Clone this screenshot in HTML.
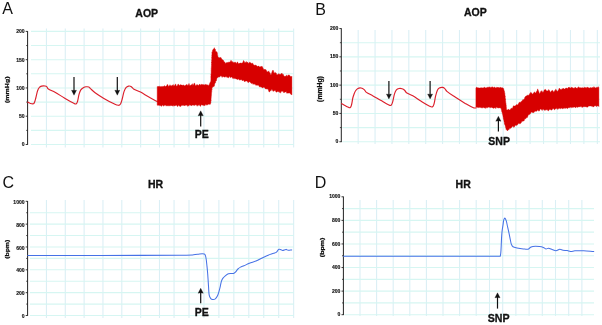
<!DOCTYPE html>
<html lang="en"><head><meta charset="utf-8"><title>AOP and HR traces</title>
<style>html,body{margin:0;padding:0;background:#fff;}body{width:602px;height:325px;overflow:hidden;}svg{display:block;}</style>
</head><body>
<svg width="602" height="325" viewBox="0 0 602 325">
<rect width="602" height="325" fill="#fff"/>
<defs><filter id="gb" x="-2%" y="-2%" width="104%" height="104%"><feGaussianBlur stdDeviation="0.6"/></filter></defs>
<g filter="url(#gb)">
<line x1="46.44" y1="28.5" x2="46.44" y2="147.5" stroke="#dbeff5" stroke-width="1.1"/>
<line x1="65.28" y1="28.5" x2="65.28" y2="147.5" stroke="#dbeff5" stroke-width="1.1"/>
<line x1="84.12" y1="28.5" x2="84.12" y2="147.5" stroke="#dbeff5" stroke-width="1.1"/>
<line x1="102.96" y1="28.5" x2="102.96" y2="147.5" stroke="#dbeff5" stroke-width="1.1"/>
<line x1="121.8" y1="28.5" x2="121.8" y2="147.5" stroke="#dbeff5" stroke-width="1.1"/>
<line x1="140.64" y1="28.5" x2="140.64" y2="147.5" stroke="#dbeff5" stroke-width="1.1"/>
<line x1="159.48" y1="28.5" x2="159.48" y2="147.5" stroke="#dbeff5" stroke-width="1.1"/>
<line x1="174.05" y1="28.5" x2="174.05" y2="147.5" stroke="#dbeff5" stroke-width="1.1"/>
<line x1="189" y1="28.5" x2="189" y2="147.5" stroke="#dbeff5" stroke-width="1.1"/>
<line x1="203.95" y1="28.5" x2="203.95" y2="147.5" stroke="#dbeff5" stroke-width="1.1"/>
<line x1="218.9" y1="28.5" x2="218.9" y2="147.5" stroke="#dbeff5" stroke-width="1.1"/>
<line x1="233.85" y1="28.5" x2="233.85" y2="147.5" stroke="#dbeff5" stroke-width="1.1"/>
<line x1="248.8" y1="28.5" x2="248.8" y2="147.5" stroke="#dbeff5" stroke-width="1.1"/>
<line x1="263.75" y1="28.5" x2="263.75" y2="147.5" stroke="#dbeff5" stroke-width="1.1"/>
<line x1="278.7" y1="28.5" x2="278.7" y2="147.5" stroke="#dbeff5" stroke-width="1.1"/>
<line x1="293.65" y1="28.5" x2="293.65" y2="147.5" stroke="#dbeff5" stroke-width="1.1"/>
<line x1="31" y1="144.5" x2="294" y2="144.5" stroke="#d6f6f2" stroke-width="1.1"/>
<line x1="31" y1="130.36" x2="294" y2="130.36" stroke="#d6f6f2" stroke-width="1.1"/>
<line x1="31" y1="116.22" x2="294" y2="116.22" stroke="#d6f6f2" stroke-width="1.1"/>
<line x1="31" y1="102.09" x2="294" y2="102.09" stroke="#d6f6f2" stroke-width="1.1"/>
<line x1="31" y1="87.95" x2="294" y2="87.95" stroke="#d6f6f2" stroke-width="1.1"/>
<line x1="31" y1="73.81" x2="294" y2="73.81" stroke="#d6f6f2" stroke-width="1.1"/>
<line x1="31" y1="59.68" x2="294" y2="59.68" stroke="#d6f6f2" stroke-width="1.1"/>
<line x1="31" y1="45.54" x2="294" y2="45.54" stroke="#d6f6f2" stroke-width="1.1"/>
<line x1="31" y1="31.4" x2="294" y2="31.4" stroke="#d6f6f2" stroke-width="1.1"/>
<line x1="46.44" y1="200" x2="46.44" y2="318" stroke="#dbeff5" stroke-width="1.1"/>
<line x1="65.28" y1="200" x2="65.28" y2="318" stroke="#dbeff5" stroke-width="1.1"/>
<line x1="84.12" y1="200" x2="84.12" y2="318" stroke="#dbeff5" stroke-width="1.1"/>
<line x1="102.96" y1="200" x2="102.96" y2="318" stroke="#dbeff5" stroke-width="1.1"/>
<line x1="121.8" y1="200" x2="121.8" y2="318" stroke="#dbeff5" stroke-width="1.1"/>
<line x1="140.64" y1="200" x2="140.64" y2="318" stroke="#dbeff5" stroke-width="1.1"/>
<line x1="159.48" y1="200" x2="159.48" y2="318" stroke="#dbeff5" stroke-width="1.1"/>
<line x1="174.05" y1="200" x2="174.05" y2="318" stroke="#dbeff5" stroke-width="1.1"/>
<line x1="189" y1="200" x2="189" y2="318" stroke="#dbeff5" stroke-width="1.1"/>
<line x1="203.95" y1="200" x2="203.95" y2="318" stroke="#dbeff5" stroke-width="1.1"/>
<line x1="218.9" y1="200" x2="218.9" y2="318" stroke="#dbeff5" stroke-width="1.1"/>
<line x1="233.85" y1="200" x2="233.85" y2="318" stroke="#dbeff5" stroke-width="1.1"/>
<line x1="248.8" y1="200" x2="248.8" y2="318" stroke="#dbeff5" stroke-width="1.1"/>
<line x1="263.75" y1="200" x2="263.75" y2="318" stroke="#dbeff5" stroke-width="1.1"/>
<line x1="278.7" y1="200" x2="278.7" y2="318" stroke="#dbeff5" stroke-width="1.1"/>
<line x1="293.65" y1="200" x2="293.65" y2="318" stroke="#dbeff5" stroke-width="1.1"/>
<line x1="30" y1="315.5" x2="294" y2="315.5" stroke="#d6f6f2" stroke-width="1.1"/>
<line x1="30" y1="304.08" x2="294" y2="304.08" stroke="#d6f6f2" stroke-width="1.1"/>
<line x1="30" y1="292.66" x2="294" y2="292.66" stroke="#d6f6f2" stroke-width="1.1"/>
<line x1="30" y1="281.24" x2="294" y2="281.24" stroke="#d6f6f2" stroke-width="1.1"/>
<line x1="30" y1="269.82" x2="294" y2="269.82" stroke="#d6f6f2" stroke-width="1.1"/>
<line x1="30" y1="258.4" x2="294" y2="258.4" stroke="#d6f6f2" stroke-width="1.1"/>
<line x1="30" y1="246.98" x2="294" y2="246.98" stroke="#d6f6f2" stroke-width="1.1"/>
<line x1="30" y1="235.56" x2="294" y2="235.56" stroke="#d6f6f2" stroke-width="1.1"/>
<line x1="30" y1="224.14" x2="294" y2="224.14" stroke="#d6f6f2" stroke-width="1.1"/>
<line x1="30" y1="212.72" x2="294" y2="212.72" stroke="#d6f6f2" stroke-width="1.1"/>
<line x1="358.18" y1="30" x2="358.18" y2="144" stroke="#dbeff5" stroke-width="1.1"/>
<line x1="375.06" y1="30" x2="375.06" y2="144" stroke="#dbeff5" stroke-width="1.1"/>
<line x1="391.94" y1="30" x2="391.94" y2="144" stroke="#dbeff5" stroke-width="1.1"/>
<line x1="408.82" y1="30" x2="408.82" y2="144" stroke="#dbeff5" stroke-width="1.1"/>
<line x1="425.7" y1="30" x2="425.7" y2="144" stroke="#dbeff5" stroke-width="1.1"/>
<line x1="442.58" y1="30" x2="442.58" y2="144" stroke="#dbeff5" stroke-width="1.1"/>
<line x1="459.46" y1="30" x2="459.46" y2="144" stroke="#dbeff5" stroke-width="1.1"/>
<line x1="476.34" y1="30" x2="476.34" y2="144" stroke="#dbeff5" stroke-width="1.1"/>
<line x1="489.75" y1="30" x2="489.75" y2="144" stroke="#dbeff5" stroke-width="1.1"/>
<line x1="503.2" y1="30" x2="503.2" y2="144" stroke="#dbeff5" stroke-width="1.1"/>
<line x1="516.65" y1="30" x2="516.65" y2="144" stroke="#dbeff5" stroke-width="1.1"/>
<line x1="530.1" y1="30" x2="530.1" y2="144" stroke="#dbeff5" stroke-width="1.1"/>
<line x1="543.55" y1="30" x2="543.55" y2="144" stroke="#dbeff5" stroke-width="1.1"/>
<line x1="557" y1="30" x2="557" y2="144" stroke="#dbeff5" stroke-width="1.1"/>
<line x1="570.45" y1="30" x2="570.45" y2="144" stroke="#dbeff5" stroke-width="1.1"/>
<line x1="583.9" y1="30" x2="583.9" y2="144" stroke="#dbeff5" stroke-width="1.1"/>
<line x1="597.35" y1="30" x2="597.35" y2="144" stroke="#dbeff5" stroke-width="1.1"/>
<line x1="342.3" y1="141.73" x2="600" y2="141.73" stroke="#d6f6f2" stroke-width="1.1"/>
<line x1="342.3" y1="127.58" x2="600" y2="127.58" stroke="#d6f6f2" stroke-width="1.1"/>
<line x1="342.3" y1="113.43" x2="600" y2="113.43" stroke="#d6f6f2" stroke-width="1.1"/>
<line x1="342.3" y1="99.29" x2="600" y2="99.29" stroke="#d6f6f2" stroke-width="1.1"/>
<line x1="342.3" y1="85.14" x2="600" y2="85.14" stroke="#d6f6f2" stroke-width="1.1"/>
<line x1="342.3" y1="70.99" x2="600" y2="70.99" stroke="#d6f6f2" stroke-width="1.1"/>
<line x1="342.3" y1="56.84" x2="600" y2="56.84" stroke="#d6f6f2" stroke-width="1.1"/>
<line x1="342.3" y1="42.7" x2="600" y2="42.7" stroke="#d6f6f2" stroke-width="1.1"/>
<line x1="360" y1="200" x2="360" y2="316" stroke="#dbeff5" stroke-width="1.1"/>
<line x1="376.6" y1="200" x2="376.6" y2="316" stroke="#dbeff5" stroke-width="1.1"/>
<line x1="393.2" y1="200" x2="393.2" y2="316" stroke="#dbeff5" stroke-width="1.1"/>
<line x1="409.8" y1="200" x2="409.8" y2="316" stroke="#dbeff5" stroke-width="1.1"/>
<line x1="426.4" y1="200" x2="426.4" y2="316" stroke="#dbeff5" stroke-width="1.1"/>
<line x1="443" y1="200" x2="443" y2="316" stroke="#dbeff5" stroke-width="1.1"/>
<line x1="459.6" y1="200" x2="459.6" y2="316" stroke="#dbeff5" stroke-width="1.1"/>
<line x1="476.2" y1="200" x2="476.2" y2="316" stroke="#dbeff5" stroke-width="1.1"/>
<line x1="489.5" y1="200" x2="489.5" y2="316" stroke="#dbeff5" stroke-width="1.1"/>
<line x1="502.7" y1="200" x2="502.7" y2="316" stroke="#dbeff5" stroke-width="1.1"/>
<line x1="515.9" y1="200" x2="515.9" y2="316" stroke="#dbeff5" stroke-width="1.1"/>
<line x1="529.1" y1="200" x2="529.1" y2="316" stroke="#dbeff5" stroke-width="1.1"/>
<line x1="542.3" y1="200" x2="542.3" y2="316" stroke="#dbeff5" stroke-width="1.1"/>
<line x1="555.5" y1="200" x2="555.5" y2="316" stroke="#dbeff5" stroke-width="1.1"/>
<line x1="568.7" y1="200" x2="568.7" y2="316" stroke="#dbeff5" stroke-width="1.1"/>
<line x1="581.9" y1="200" x2="581.9" y2="316" stroke="#dbeff5" stroke-width="1.1"/>
<line x1="344.4" y1="314.7" x2="594" y2="314.7" stroke="#d6f6f2" stroke-width="1.1"/>
<line x1="344.4" y1="302.91" x2="594" y2="302.91" stroke="#d6f6f2" stroke-width="1.1"/>
<line x1="344.4" y1="291.12" x2="594" y2="291.12" stroke="#d6f6f2" stroke-width="1.1"/>
<line x1="344.4" y1="279.33" x2="594" y2="279.33" stroke="#d6f6f2" stroke-width="1.1"/>
<line x1="344.4" y1="267.54" x2="594" y2="267.54" stroke="#d6f6f2" stroke-width="1.1"/>
<line x1="344.4" y1="255.75" x2="594" y2="255.75" stroke="#d6f6f2" stroke-width="1.1"/>
<line x1="344.4" y1="243.96" x2="594" y2="243.96" stroke="#d6f6f2" stroke-width="1.1"/>
<line x1="344.4" y1="232.17" x2="594" y2="232.17" stroke="#d6f6f2" stroke-width="1.1"/>
<line x1="344.4" y1="220.38" x2="594" y2="220.38" stroke="#d6f6f2" stroke-width="1.1"/>
<line x1="344.4" y1="208.59" x2="594" y2="208.59" stroke="#d6f6f2" stroke-width="1.1"/>
</g>
<line x1="27.6" y1="31.1" x2="27.6" y2="144.9" stroke="#222" stroke-width="1"/>
<line x1="25.7" y1="144.5" x2="27.6" y2="144.5" stroke="#222" stroke-width="0.9"/>
<line x1="25.7" y1="116.22" x2="27.6" y2="116.22" stroke="#222" stroke-width="0.9"/>
<line x1="25.7" y1="87.95" x2="27.6" y2="87.95" stroke="#222" stroke-width="0.9"/>
<line x1="25.7" y1="59.68" x2="27.6" y2="59.68" stroke="#222" stroke-width="0.9"/>
<line x1="25.7" y1="31.4" x2="27.6" y2="31.4" stroke="#222" stroke-width="0.9"/>
<line x1="26.2" y1="130.36" x2="27.6" y2="130.36" stroke="#222" stroke-width="0.8"/>
<line x1="26.2" y1="102.09" x2="27.6" y2="102.09" stroke="#222" stroke-width="0.8"/>
<line x1="26.2" y1="73.81" x2="27.6" y2="73.81" stroke="#222" stroke-width="0.8"/>
<line x1="26.2" y1="45.54" x2="27.6" y2="45.54" stroke="#222" stroke-width="0.8"/>
<text x="24.6" y="146.4" text-anchor="end" font-size="5.05" font-weight="bold" font-family="Liberation Sans, Arial, Helvetica, sans-serif" fill="#111" stroke="#111" stroke-width="0.14">0</text>
<text x="24.6" y="118.12" text-anchor="end" font-size="5.05" font-weight="bold" font-family="Liberation Sans, Arial, Helvetica, sans-serif" fill="#111" stroke="#111" stroke-width="0.14">50</text>
<text x="24.6" y="89.85" text-anchor="end" font-size="5.05" font-weight="bold" font-family="Liberation Sans, Arial, Helvetica, sans-serif" fill="#111" stroke="#111" stroke-width="0.14">100</text>
<text x="24.6" y="61.58" text-anchor="end" font-size="5.05" font-weight="bold" font-family="Liberation Sans, Arial, Helvetica, sans-serif" fill="#111" stroke="#111" stroke-width="0.14">150</text>
<text x="24.6" y="33.3" text-anchor="end" font-size="5.05" font-weight="bold" font-family="Liberation Sans, Arial, Helvetica, sans-serif" fill="#111" stroke="#111" stroke-width="0.14">200</text>
<line x1="341.3" y1="28.25" x2="341.3" y2="142.13" stroke="#222" stroke-width="1"/>
<line x1="339.4" y1="141.73" x2="341.3" y2="141.73" stroke="#222" stroke-width="0.9"/>
<line x1="339.4" y1="113.43" x2="341.3" y2="113.43" stroke="#222" stroke-width="0.9"/>
<line x1="339.4" y1="85.14" x2="341.3" y2="85.14" stroke="#222" stroke-width="0.9"/>
<line x1="339.4" y1="56.84" x2="341.3" y2="56.84" stroke="#222" stroke-width="0.9"/>
<line x1="339.4" y1="28.55" x2="341.3" y2="28.55" stroke="#222" stroke-width="0.9"/>
<line x1="339.9" y1="127.58" x2="341.3" y2="127.58" stroke="#222" stroke-width="0.8"/>
<line x1="339.9" y1="99.29" x2="341.3" y2="99.29" stroke="#222" stroke-width="0.8"/>
<line x1="339.9" y1="70.99" x2="341.3" y2="70.99" stroke="#222" stroke-width="0.8"/>
<line x1="339.9" y1="42.7" x2="341.3" y2="42.7" stroke="#222" stroke-width="0.8"/>
<text x="338.3" y="143.33" text-anchor="end" font-size="5.05" font-weight="bold" font-family="Liberation Sans, Arial, Helvetica, sans-serif" fill="#111" stroke="#111" stroke-width="0.14">0</text>
<text x="338.3" y="115.03" text-anchor="end" font-size="5.05" font-weight="bold" font-family="Liberation Sans, Arial, Helvetica, sans-serif" fill="#111" stroke="#111" stroke-width="0.14">50</text>
<text x="338.3" y="86.74" text-anchor="end" font-size="5.05" font-weight="bold" font-family="Liberation Sans, Arial, Helvetica, sans-serif" fill="#111" stroke="#111" stroke-width="0.14">100</text>
<text x="338.3" y="58.44" text-anchor="end" font-size="5.05" font-weight="bold" font-family="Liberation Sans, Arial, Helvetica, sans-serif" fill="#111" stroke="#111" stroke-width="0.14">150</text>
<text x="338.3" y="30.15" text-anchor="end" font-size="5.05" font-weight="bold" font-family="Liberation Sans, Arial, Helvetica, sans-serif" fill="#111" stroke="#111" stroke-width="0.14">200</text>
<line x1="27.6" y1="201" x2="27.6" y2="315.9" stroke="#222" stroke-width="1"/>
<line x1="25.7" y1="315.5" x2="27.6" y2="315.5" stroke="#222" stroke-width="0.9"/>
<line x1="25.7" y1="292.66" x2="27.6" y2="292.66" stroke="#222" stroke-width="0.9"/>
<line x1="25.7" y1="269.82" x2="27.6" y2="269.82" stroke="#222" stroke-width="0.9"/>
<line x1="25.7" y1="246.98" x2="27.6" y2="246.98" stroke="#222" stroke-width="0.9"/>
<line x1="25.7" y1="224.14" x2="27.6" y2="224.14" stroke="#222" stroke-width="0.9"/>
<line x1="25.7" y1="201.3" x2="27.6" y2="201.3" stroke="#222" stroke-width="0.9"/>
<line x1="26.2" y1="304.08" x2="27.6" y2="304.08" stroke="#222" stroke-width="0.8"/>
<line x1="26.2" y1="281.24" x2="27.6" y2="281.24" stroke="#222" stroke-width="0.8"/>
<line x1="26.2" y1="258.4" x2="27.6" y2="258.4" stroke="#222" stroke-width="0.8"/>
<line x1="26.2" y1="235.56" x2="27.6" y2="235.56" stroke="#222" stroke-width="0.8"/>
<line x1="26.2" y1="212.72" x2="27.6" y2="212.72" stroke="#222" stroke-width="0.8"/>
<text x="24.6" y="318.1" text-anchor="end" font-size="5.05" font-weight="bold" font-family="Liberation Sans, Arial, Helvetica, sans-serif" fill="#111" stroke="#111" stroke-width="0.14">0</text>
<text x="24.6" y="295.26" text-anchor="end" font-size="5.05" font-weight="bold" font-family="Liberation Sans, Arial, Helvetica, sans-serif" fill="#111" stroke="#111" stroke-width="0.14">200</text>
<text x="24.6" y="272.42" text-anchor="end" font-size="5.05" font-weight="bold" font-family="Liberation Sans, Arial, Helvetica, sans-serif" fill="#111" stroke="#111" stroke-width="0.14">400</text>
<text x="24.6" y="249.58" text-anchor="end" font-size="5.05" font-weight="bold" font-family="Liberation Sans, Arial, Helvetica, sans-serif" fill="#111" stroke="#111" stroke-width="0.14">600</text>
<text x="24.6" y="226.74" text-anchor="end" font-size="5.05" font-weight="bold" font-family="Liberation Sans, Arial, Helvetica, sans-serif" fill="#111" stroke="#111" stroke-width="0.14">800</text>
<text x="24.6" y="203.9" text-anchor="end" font-size="5.05" font-weight="bold" font-family="Liberation Sans, Arial, Helvetica, sans-serif" fill="#111" stroke="#111" stroke-width="0.14">1000</text>
<line x1="343.4" y1="196.5" x2="343.4" y2="315.1" stroke="#222" stroke-width="1"/>
<line x1="341.5" y1="314.7" x2="343.4" y2="314.7" stroke="#222" stroke-width="0.9"/>
<line x1="341.5" y1="291.12" x2="343.4" y2="291.12" stroke="#222" stroke-width="0.9"/>
<line x1="341.5" y1="267.54" x2="343.4" y2="267.54" stroke="#222" stroke-width="0.9"/>
<line x1="341.5" y1="243.96" x2="343.4" y2="243.96" stroke="#222" stroke-width="0.9"/>
<line x1="341.5" y1="220.38" x2="343.4" y2="220.38" stroke="#222" stroke-width="0.9"/>
<line x1="341.5" y1="196.8" x2="343.4" y2="196.8" stroke="#222" stroke-width="0.9"/>
<line x1="342" y1="302.91" x2="343.4" y2="302.91" stroke="#222" stroke-width="0.8"/>
<line x1="342" y1="279.33" x2="343.4" y2="279.33" stroke="#222" stroke-width="0.8"/>
<line x1="342" y1="255.75" x2="343.4" y2="255.75" stroke="#222" stroke-width="0.8"/>
<line x1="342" y1="232.17" x2="343.4" y2="232.17" stroke="#222" stroke-width="0.8"/>
<line x1="342" y1="208.59" x2="343.4" y2="208.59" stroke="#222" stroke-width="0.8"/>
<text x="340.4" y="316.3" text-anchor="end" font-size="5.05" font-weight="bold" font-family="Liberation Sans, Arial, Helvetica, sans-serif" fill="#111" stroke="#111" stroke-width="0.14">0</text>
<text x="340.4" y="292.72" text-anchor="end" font-size="5.05" font-weight="bold" font-family="Liberation Sans, Arial, Helvetica, sans-serif" fill="#111" stroke="#111" stroke-width="0.14">200</text>
<text x="340.4" y="269.14" text-anchor="end" font-size="5.05" font-weight="bold" font-family="Liberation Sans, Arial, Helvetica, sans-serif" fill="#111" stroke="#111" stroke-width="0.14">400</text>
<text x="340.4" y="245.56" text-anchor="end" font-size="5.05" font-weight="bold" font-family="Liberation Sans, Arial, Helvetica, sans-serif" fill="#111" stroke="#111" stroke-width="0.14">600</text>
<text x="340.4" y="221.98" text-anchor="end" font-size="5.05" font-weight="bold" font-family="Liberation Sans, Arial, Helvetica, sans-serif" fill="#111" stroke="#111" stroke-width="0.14">800</text>
<text x="340.4" y="198.4" text-anchor="end" font-size="5.05" font-weight="bold" font-family="Liberation Sans, Arial, Helvetica, sans-serif" fill="#111" stroke="#111" stroke-width="0.14">1000</text>
<text transform="translate(8.8 89.7) rotate(-90)" x="0" y="0" font-size="6.2" font-weight="bold" text-anchor="middle" textLength="26.6" lengthAdjust="spacingAndGlyphs" font-family="Liberation Sans, Arial, Helvetica, sans-serif" fill="#111" stroke="#111" stroke-width="0.25">(mmHg)</text>
<text transform="translate(321.9 89) rotate(-90)" x="0" y="0" font-size="7.0" font-weight="bold" text-anchor="middle" textLength="25.8" lengthAdjust="spacingAndGlyphs" font-family="Liberation Sans, Arial, Helvetica, sans-serif" fill="#111" stroke="#111" stroke-width="0.25">(mmHg)</text>
<text transform="translate(9.2 249.3) rotate(-90)" x="0" y="0" font-size="6.2" font-weight="bold" text-anchor="middle" textLength="18.9" lengthAdjust="spacingAndGlyphs" font-family="Liberation Sans, Arial, Helvetica, sans-serif" fill="#111" stroke="#111" stroke-width="0.25">(bpm)</text>
<text transform="translate(324.3 247.4) rotate(-90)" x="0" y="0" font-size="6.2" font-weight="bold" text-anchor="middle" textLength="19.5" lengthAdjust="spacingAndGlyphs" font-family="Liberation Sans, Arial, Helvetica, sans-serif" fill="#111" stroke="#111" stroke-width="0.25">(bpm)</text>
<text x="2.2" y="13.7" font-size="16"  text-anchor="start" font-family="Liberation Sans, Arial, Helvetica, sans-serif" fill="#111" >A</text>
<text x="315.2" y="14.6" font-size="16"  text-anchor="start" font-family="Liberation Sans, Arial, Helvetica, sans-serif" fill="#111" >B</text>
<text x="2.4" y="187.7" font-size="16"  text-anchor="start" font-family="Liberation Sans, Arial, Helvetica, sans-serif" fill="#111" >C</text>
<text x="314.8" y="187.7" font-size="16"  text-anchor="start" font-family="Liberation Sans, Arial, Helvetica, sans-serif" fill="#111" >D</text>
<text x="146.7" y="17" font-size="10.5" font-weight="bold" stroke="#111" stroke-width="0.3" text-anchor="middle" font-family="Liberation Sans, Arial, Helvetica, sans-serif" fill="#111" >AOP</text>
<text x="475.3" y="16" font-size="10.5" font-weight="bold" stroke="#111" stroke-width="0.3" text-anchor="middle" font-family="Liberation Sans, Arial, Helvetica, sans-serif" fill="#111" >AOP</text>
<text x="155.6" y="187.7" font-size="10.5" font-weight="bold" stroke="#111" stroke-width="0.3" text-anchor="middle" font-family="Liberation Sans, Arial, Helvetica, sans-serif" fill="#111" >HR</text>
<text x="463.2" y="187.9" font-size="10.5" font-weight="bold" stroke="#111" stroke-width="0.3" text-anchor="middle" font-family="Liberation Sans, Arial, Helvetica, sans-serif" fill="#111" >HR</text>
<path d="M27.7 102.1 C29.03 102.63 30.29 103.43 31.7 103.7 C32.46 103.85 33.55 103.93 34 103.3 C35.09 101.79 35.29 99.79 35.8 98 C36.46 95.69 36.74 93.28 37.5 91 C37.91 89.76 38.46 88.51 39.3 87.5 C39.88 86.81 40.73 86.32 41.6 86.1 C42.73 85.81 43.95 85.83 45.1 86 C45.76 86.1 46.41 86.44 46.9 86.9 C47.41 87.38 47.41 88.31 48 88.7 C50.18 90.13 52.73 90.91 55 92.2 C58.2 94.02 61.23 96.13 64.4 98 C67.5 99.83 70.59 101.68 73.8 103.3 C74.51 103.66 75.39 104.25 76.1 103.9 C76.93 103.49 77.23 102.39 77.5 101.5 C78.2 99.22 78.35 96.8 79 94.5 C79.45 92.92 79.88 91.27 80.8 89.9 C81.5 88.86 82.62 88.14 83.7 87.5 C84.39 87.09 85.2 86.88 86 86.8 C86.93 86.71 87.95 86.62 88.8 87 C89.62 87.37 90.04 88.3 90.7 88.9 C92.14 90.2 93.53 91.57 95.1 92.7 C97.94 94.74 100.89 96.63 103.9 98.4 C107.19 100.33 110.55 102.16 114 103.8 C115.4 104.47 116.85 105.25 118.4 105.3 C119.22 105.33 120.07 104.7 120.5 104 C121.41 102.49 121.72 100.69 122.2 99 C122.92 96.49 123.27 93.88 124.1 91.4 C124.55 90.06 125.1 88.69 126 87.6 C126.62 86.85 127.56 86.33 128.5 86.1 C129.32 85.9 130.27 85.99 131 86.4 C132.03 86.98 132.49 88.29 133.5 88.9 C135.7 90.22 138.23 90.91 140.5 92.1 C143.07 93.45 145.48 95.07 148 96.5 C151.08 98.24 154.2 99.9 157.3 101.6" fill="none" stroke="#dc1f2b" stroke-width="1.15" stroke-linejoin="round" stroke-linecap="round"/>
<path d="M157.2 86.57 L157.76 86.67 L158.31 86.06 L158.87 86.67 L159.42 86.27 L159.98 86.49 L160.54 86.65 L161.09 86.29 L161.65 86.64 L162.2 86.38 L162.76 86.62 L163.32 86.61 L163.87 86.37 L164.43 85.55 L164.99 86.58 L165.54 86.53 L166.1 86 L166.65 85.88 L167.21 84.45 L167.77 84.63 L168.32 86.2 L168.88 86.21 L169.43 85.69 L169.99 84.65 L170.55 85.39 L171.1 86.24 L171.66 85.56 L172.21 85.47 L172.77 84.94 L173.33 84.62 L173.88 86.17 L174.44 85.66 L175 84.81 L175.55 83.85 L176.11 85.38 L176.66 86.27 L177.22 85.95 L177.78 84.46 L178.33 84.1 L178.89 85.01 L179.44 85.87 L180 84.66 L180.56 84.84 L181.12 85.08 L181.69 85.03 L182.25 85.21 L182.81 85.37 L183.38 85.02 L183.94 85.36 L184.5 85.71 L185.06 86.01 L185.62 85.03 L186.19 84.78 L186.75 84.59 L187.31 84.68 L187.88 85.67 L188.44 84.79 L189 83.4 L189.56 85.26 L190.12 85.7 L190.69 85.06 L191.25 84.93 L191.81 84.39 L192.38 83.68 L192.94 85.38 L193.5 84.71 L194.06 83.22 L194.62 83.24 L195.19 85 L195.75 85.63 L196.31 85.16 L196.88 84.56 L197.44 84.68 L198 85.25 L198.56 85.45 L199.12 84.72 L199.68 83.97 L200.24 84.74 L200.8 85.24 L201.36 84.23 L201.92 84.54 L202.48 84.58 L203.04 84.87 L203.6 84.51 L204.16 85.29 L204.72 84.58 L205.28 84.38 L205.84 84.54 L206.4 84.55 L206.96 85.3 L207.52 84.91 L208.08 84.84 L208.64 85.65 L209.2 84.89 L209.4 83.79 L209.6 83.65 L209.8 83.22 L210 82.62 L210.2 82.26 L210.4 82.46 L210.6 81.59 L210.8 81.24 L210.82 80.84 L210.85 80.29 L210.87 79.63 L210.89 79.09 L210.92 77.9 L210.94 76.61 L210.96 77.23 L210.99 75.56 L211.01 74.83 L211.04 74.39 L211.06 75.1 L211.08 74.66 L211.11 74.1 L211.13 73.56 L211.15 73 L211.18 71.92 L211.2 70.66 L211.22 70.28 L211.25 70.5 L211.27 69.64 L211.29 68.73 L211.32 69.14 L211.34 67.95 L211.36 66.74 L211.39 66.55 L211.41 66.07 L211.44 66.05 L211.46 65.77 L211.48 64.3 L211.51 64.55 L211.53 63.16 L211.55 62.08 L211.58 62.82 L211.6 62.25 L211.62 60.49 L211.65 60.56 L211.67 60.76 L211.69 60.22 L211.72 59.66 L211.74 57.84 L211.76 57.57 L211.79 57.99 L211.81 56.4 L211.84 55.37 L211.86 55.71 L211.88 55.63 L211.91 54.8 L211.93 54.65 L211.95 54.11 L211.98 52.06 L212 52.38 L212.24 52.03 L212.49 50.47 L212.73 51.01 L212.98 49.51 L213.22 49.06 L213.47 49.48 L213.71 48.88 L213.96 48.27 L214.2 47.73 L214.43 47.86 L214.66 48.83 L214.89 49.24 L215.11 50.01 L215.34 49.29 L215.57 50.98 L215.8 51.41 L216.4 51.86 L217 51.72 L217.14 53.32 L217.29 52.79 L217.43 54.32 L217.58 54.82 L217.72 55.39 L217.87 56.33 L218.01 56.63 L218.16 57.41 L218.3 58 L218.93 57.02 L219.55 57.97 L220.18 57.69 L220.8 57.21 L221.32 58.2 L221.84 59.14 L222.36 59.54 L222.88 60.12 L223.4 60.26 L224.03 61.81 L224.65 62 L225.28 63 L225.9 63.61 L226.46 62.56 L227.01 62.87 L227.57 62.55 L228.12 61.9 L228.68 62.39 L229.23 62.34 L229.79 61.94 L230.34 61.82 L230.9 60.31 L231.45 60.77 L232 62.3 L232.55 61.52 L233.1 62.64 L233.65 62.31 L234.2 62.43 L234.75 62.31 L235.3 62.01 L235.94 62.97 L236.58 63.58 L237.22 61.89 L237.86 62.36 L238.5 64.14 L239.06 63.03 L239.61 63.5 L240.17 63.12 L240.72 63.04 L241.28 63.28 L241.83 62.93 L242.39 62.92 L242.94 62.13 L243.5 60.55 L244.07 60.93 L244.64 62.67 L245.21 62.11 L245.78 62.89 L246.35 61.44 L246.92 62.75 L247.49 61.95 L248.06 62.77 L248.63 63.6 L249.2 63.06 L249.77 61.92 L250.35 62.73 L250.92 62.97 L251.49 63.29 L252.06 64.21 L252.64 62.86 L253.21 64.51 L253.78 64.82 L254.35 65.24 L254.93 65.23 L255.5 65.12 L256.07 65.21 L256.65 65.77 L257.22 66.28 L257.79 66.61 L258.36 65.98 L258.94 66.09 L259.51 66.88 L260.08 67.1 L260.65 66.45 L261.23 67.1 L261.8 65.98 L262.39 66.87 L262.98 68.01 L263.57 69.2 L264.16 69.74 L264.75 69 L265.34 69.79 L265.93 69.54 L266.52 70.63 L267.11 71.99 L267.7 71.7 L268.27 71.85 L268.83 70.8 L269.4 72.67 L269.97 72.48 L270.53 74.41 L271.1 74.73 L271.34 73.7 L271.59 72.89 L271.83 72.44 L272.07 71.56 L272.31 71.18 L272.56 70.72 L272.8 70.01 L273.16 70.62 L273.52 70.75 L273.88 73.02 L274.24 73.25 L274.6 72.68 L275.17 72.36 L275.73 72.94 L276.3 73.17 L276.87 74.67 L277.43 74.73 L278 74.53 L278.58 73.66 L279.17 73.73 L279.75 74.56 L280.33 74.5 L280.92 73.7 L281.5 73.55 L282.09 73.33 L282.67 74.41 L283.26 74.36 L283.84 75.71 L284.43 76.48 L285.01 76.1 L285.6 76.18 L286.18 76.16 L286.77 74.88 L287.35 76.41 L287.93 75.62 L288.52 75.01 L289.1 74.86 L289.66 75.51 L290.22 76.19 L290.78 76.57 L291.34 76.65 L291.9 76.12 L291.9 94.92 L291.33 94.46 L290.75 94.3 L290.18 93.52 L289.61 92.78 L289.04 93.13 L288.46 93.01 L287.89 93.2 L287.32 92.96 L286.75 93.29 L286.17 91.47 L285.6 91.9 L285.04 92.05 L284.49 92.25 L283.93 93.02 L283.38 91.81 L282.82 91.22 L282.26 91.3 L281.71 91.35 L281.15 91.57 L280.59 93.2 L280.04 91.62 L279.48 92.57 L278.93 90.97 L278.37 92.1 L277.81 91.19 L277.26 91.77 L276.7 92.07 L276.09 92.15 L275.48 90.68 L274.86 90.2 L274.25 91.08 L273.64 91.12 L273.02 91.39 L272.41 89.89 L271.8 89.07 L271.1 90.8 L270.4 90.53 L269.7 91.87 L269.03 91.96 L268.37 89.82 L267.7 89.21 L267.11 88.69 L266.52 89 L265.93 88.85 L265.34 88.92 L264.75 87.86 L264.16 87.42 L263.57 87.31 L262.98 87.64 L262.39 87.97 L261.8 87.37 L261.22 86.98 L260.63 86.97 L260.05 86.41 L259.46 86.95 L258.88 85.89 L258.29 84.94 L257.71 85.32 L257.12 85.17 L256.54 85.11 L255.95 85.55 L255.37 84.4 L254.78 83.85 L254.2 84.44 L253.61 83.8 L253.03 84.46 L252.44 82.76 L251.85 83.75 L251.27 83.05 L250.68 82.79 L250.09 82.21 L249.51 81.65 L248.92 81.69 L248.33 82.84 L247.75 82.18 L247.16 81.22 L246.57 80.92 L245.99 80.99 L245.4 80.97 L244.85 82.02 L244.3 81.37 L243.75 80.19 L243.2 80.15 L242.65 80.98 L242.1 80.26 L241.55 79.82 L241 79.45 L240.45 80.01 L239.9 80.17 L239.35 79.76 L238.8 79.44 L238.25 78.86 L237.7 79.83 L237.15 79.02 L236.6 79.12 L236.03 79.1 L235.45 78.7 L234.88 78.1 L234.31 78.68 L233.74 78.68 L233.16 77.86 L232.59 78.38 L232.02 76.88 L231.45 77.03 L230.87 77.36 L230.3 77.8 L229.73 76.66 L229.15 76.34 L228.58 77.92 L228.01 77.4 L227.44 77.29 L226.86 77.4 L226.29 76.46 L225.72 76.62 L225.15 77.21 L224.57 77.08 L224 76.89 L223.37 76.53 L222.73 76.45 L222.1 77.44 L221.47 76.04 L220.83 75.8 L220.2 76.49 L219.57 76.99 L218.95 76.68 L218.32 77.34 L217.7 77.7 L217.46 77.39 L217.22 77.78 L216.99 78.33 L216.75 78.89 L216.51 80.65 L216.28 80.02 L216.04 80.69 L215.8 81.09 L215.59 82.79 L215.38 82.72 L215.17 82.93 L214.96 83.35 L214.74 83.89 L214.53 84.69 L214.32 86.13 L214.11 85.61 L213.9 86.79 L213.27 86.56 L212.63 86.99 L212 88.22 L211.96 88.03 L211.91 89.71 L211.87 89.09 L211.82 89.9 L211.78 90.84 L211.73 91.52 L211.69 91.33 L211.64 92.41 L211.6 92.6 L211.56 93.09 L211.51 93.53 L211.47 94.14 L211.42 95.74 L211.38 95.74 L211.33 95.83 L211.29 96.52 L211.24 97.43 L211.2 97.72 L211.16 98 L211.11 98.66 L211.07 99.72 L211.02 100.87 L210.98 100.3 L210.93 100.85 L210.89 101.61 L210.84 102.91 L210.8 102.97 L210.15 104.46 L209.5 104.31 L208.94 104.1 L208.38 104.25 L207.82 104.83 L207.26 104.87 L206.71 105.22 L206.15 104.56 L205.59 104.34 L205.03 105.64 L204.47 105.52 L203.91 105.26 L203.35 105.55 L202.79 105.25 L202.24 104.98 L201.68 104.73 L201.12 104.95 L200.56 106.31 L200 106.14 L199.44 104.69 L198.89 104.8 L198.33 105.51 L197.78 104.97 L197.22 106.31 L196.67 105.34 L196.11 104.8 L195.56 104.67 L195 105.45 L194.44 105.21 L193.89 105.57 L193.33 105.08 L192.78 105.11 L192.22 104.9 L191.67 106.04 L191.11 105.37 L190.56 105.28 L190 105.08 L189.44 104.84 L188.89 106.09 L188.33 105.2 L187.78 106.41 L187.22 105.34 L186.67 105.26 L186.11 105 L185.56 104.96 L185 105.92 L184.44 105.5 L183.89 105.48 L183.33 105.3 L182.78 105.43 L182.22 105.21 L181.67 105.29 L181.11 105.95 L180.56 106.73 L180 106.11 L179.44 106.2 L178.89 105.06 L178.33 105.38 L177.78 106.62 L177.22 106.34 L176.66 105.2 L176.11 105.2 L175.55 105.48 L175 105.63 L174.44 105.67 L173.88 106.29 L173.33 105.37 L172.77 105.73 L172.21 105.97 L171.66 105.49 L171.1 105.64 L170.55 105.82 L169.99 105.21 L169.43 106.06 L168.88 105.75 L168.32 105.84 L167.77 105.76 L167.21 105.74 L166.65 105.47 L166.1 106.15 L165.54 105.04 L164.99 105.08 L164.43 105.24 L163.87 106.23 L163.32 105.86 L162.76 105.26 L162.2 105.03 L161.65 106.16 L161.09 106.28 L160.54 105.08 L159.98 106.07 L159.42 105.07 L158.87 105.3 L158.31 105.31 L157.76 105.37 L157.2 105.16Z" fill="#d70000" stroke="#d70000" stroke-width="0.4" stroke-linejoin="round"/>
<line x1="74" y1="77" x2="74" y2="92.2" stroke="#111" stroke-width="1.2"/>
<path d="M74 95.2 L71.5 90.2 L74 90.6 L76.5 90.2Z" fill="#111" stroke="#111" stroke-width="0.3" stroke-linejoin="round"/>
<line x1="117.3" y1="77" x2="117.3" y2="92.2" stroke="#111" stroke-width="1.2"/>
<path d="M117.3 95.2 L114.8 90.2 L117.3 90.6 L119.8 90.2Z" fill="#111" stroke="#111" stroke-width="0.3" stroke-linejoin="round"/>
<line x1="200.7" y1="126.4" x2="200.7" y2="113.8" stroke="#111" stroke-width="1.2"/>
<path d="M200.7 110.8 L198.1 115.8 L200.7 115.4 L203.3 115.8Z" fill="#111" stroke="#111" stroke-width="0.3" stroke-linejoin="round"/>
<text x="201.7" y="138.4" font-size="10.5" font-weight="bold" stroke="#111" stroke-width="0.3" text-anchor="middle" font-family="Liberation Sans, Arial, Helvetica, sans-serif" fill="#111" >PE</text>
<path d="M341.6 103.6 C342.4 104.07 343.19 104.55 344 105 C345.26 105.69 346.48 106.45 347.8 107 C348.59 107.33 349.58 108.07 350.3 107.6 C351.24 106.98 351.32 105.58 351.6 104.5 C352.16 102.37 352.29 100.14 352.8 98 C353.12 96.64 353.6 95.31 354.1 94 C354.53 92.87 354.92 91.7 355.6 90.7 C356.21 89.8 356.93 88.88 357.9 88.4 C358.86 87.93 360.04 87.8 361.1 88 C362.24 88.22 363.3 88.86 364.2 89.6 C365.01 90.26 365.25 91.49 366.1 92.1 C368.24 93.63 370.71 94.61 373 95.9 C375.55 97.34 378.06 98.85 380.6 100.3 C383.36 101.88 386.03 103.63 388.9 105 C389.57 105.32 390.52 105.76 391.1 105.3 C392.03 104.57 392.26 103.23 392.6 102.1 C393.4 99.41 393.67 96.58 394.5 93.9 C394.94 92.49 395.46 91.03 396.4 89.9 C397.03 89.14 398.04 88.7 399 88.5 C400.01 88.29 401.11 88.4 402.1 88.7 C403.03 88.98 403.88 89.55 404.6 90.2 C405.37 90.9 405.64 92.11 406.5 92.7 C408.43 94.02 410.78 94.62 412.8 95.8 C415.82 97.56 418.62 99.67 421.6 101.5 C424.09 103.04 426.58 104.59 429.2 105.9 C430.2 106.4 431.36 107.31 432.4 106.9 C433.43 106.49 433.68 105.06 434 104 C434.73 101.56 434.89 98.98 435.5 96.5 C436.02 94.37 436.5 92.2 437.4 90.2 C437.8 89.32 438.45 88.47 439.3 88 C440.22 87.49 441.35 87.32 442.4 87.4 C443.2 87.46 444 87.86 444.6 88.4 C445.54 89.24 445.93 90.6 446.9 91.4 C449.46 93.52 452.32 95.27 455.1 97.1 C458.42 99.28 461.77 101.4 465.2 103.4 C467.88 104.97 470.55 106.58 473.4 107.8 C474.2 108.14 475.13 107.93 476 108" fill="none" stroke="#dc1f2b" stroke-width="1.15" stroke-linejoin="round" stroke-linecap="round"/>
<path d="M475.9 87.95 L476.45 87.34 L477.01 87.3 L477.56 87.78 L478.11 87.96 L478.67 87.76 L479.22 87.98 L479.77 87.97 L480.32 87.8 L480.88 87.98 L481.43 87.78 L481.98 87.7 L482.54 87.97 L483.09 87.53 L483.64 87.97 L484.2 87.36 L484.75 87.28 L485.3 87.69 L485.86 87.96 L486.41 87.7 L486.96 87.82 L487.51 86.88 L488.07 87.94 L488.62 87.1 L489.17 86.76 L489.73 87.34 L490.28 87.18 L490.83 87.91 L491.39 86.79 L491.94 87.69 L492.49 86.85 L493.04 86.95 L493.6 87.91 L494.15 87.22 L494.7 86.91 L495.26 87.93 L495.81 87.81 L496.36 87.28 L496.92 87.9 L497.47 86.98 L498.02 87.85 L498.58 87.15 L499.13 87.9 L499.68 87.65 L500.23 86.91 L500.79 87.87 L501.34 87.84 L501.89 87.64 L502.45 87.8 L503 87.9 L503.2 88.42 L503.4 88.98 L503.6 88.51 L503.8 89.59 L504 89.71 L504.2 91.18 L504.4 91.05 L504.6 92.29 L504.66 92.56 L504.73 92.97 L504.79 93.85 L504.85 93.64 L504.92 94.76 L504.98 95.29 L505.04 95.29 L505.11 96.75 L505.17 96.14 L505.23 97.45 L505.29 98.28 L505.36 98.26 L505.42 99.49 L505.48 98.94 L505.55 100.31 L505.61 101.1 L505.67 101.12 L505.74 102.14 L505.8 102.87 L505.87 102.85 L505.94 104.05 L506.01 103.86 L506.08 105.15 L506.15 105.34 L506.22 105.2 L506.28 106.57 L506.35 107.03 L506.42 108 L506.49 108.67 L506.56 109.25 L506.63 109.8 L506.7 109.99 L507.3 110.01 L507.9 109.72 L508.5 108.94 L509.1 110.06 L509.7 109.99 L510.3 109.45 L510.92 108.55 L511.53 108.28 L512.15 108.59 L512.77 107.49 L513.38 105.77 L514 106.1 L514.63 106 L515.27 105.72 L515.9 105.45 L516.53 104.41 L517.17 104.68 L517.8 104.93 L518.43 103.76 L519.07 102.42 L519.7 102.32 L520.33 102.42 L520.97 101.62 L521.6 101.53 L522.16 100.64 L522.71 99.63 L523.27 99.53 L523.82 99.63 L524.38 98.69 L524.93 97.08 L525.49 96.5 L526.04 95.91 L526.6 95.88 L527.2 95.18 L527.8 95.15 L528.4 95.35 L529 95.18 L529.6 93.71 L530.2 93.14 L530.8 92.27 L531.43 92.78 L532.07 93.87 L532.7 94.27 L533.33 93.15 L533.97 92.54 L534.6 91.76 L535.22 93.12 L535.84 92.88 L536.46 91.54 L537.08 90.75 L537.7 88.87 L538.18 90.16 L538.65 91.2 L539.12 92.69 L539.6 93.99 L540.16 92.73 L540.71 91.42 L541.27 91.59 L541.82 90.62 L542.38 91.76 L542.93 92.57 L543.49 91.83 L544.04 90.33 L544.6 89.85 L545.18 89.33 L545.77 89.67 L546.35 90.97 L546.94 90.5 L547.52 91.04 L548.11 90.79 L548.69 89.53 L549.28 90.28 L549.86 91.37 L550.45 92.62 L551.03 91.58 L551.62 90.78 L552.2 90.44 L552.78 90.43 L553.37 91.82 L553.95 92.25 L554.54 90.71 L555.12 90.47 L555.71 89.18 L556.29 89.66 L556.88 90.94 L557.46 91.61 L558.05 90.42 L558.63 90.12 L559.22 88.04 L559.8 89.11 L560.35 89.03 L560.9 90.11 L561.45 89.47 L562 88.6 L562.55 89.09 L563.1 88.32 L563.65 88.57 L564.2 89.01 L564.75 88.92 L565.3 88.59 L565.85 88.07 L566.4 88.11 L566.95 88.16 L567.5 88.43 L568.05 88.01 L568.6 87.06 L569.15 87.6 L569.7 87.43 L570.25 87.78 L570.8 88.17 L571.35 87.34 L571.91 87.27 L572.46 87.71 L573.01 87.7 L573.56 88.23 L574.11 88.15 L574.66 87.99 L575.21 86.98 L575.76 87.92 L576.31 88.1 L576.86 88.33 L577.41 88.24 L577.97 87.31 L578.52 86.7 L579.07 87.96 L579.62 87.6 L580.17 88.04 L580.72 87.57 L581.27 87.81 L581.82 87.88 L582.37 87.43 L582.92 88.12 L583.47 87.91 L584.03 87.58 L584.58 87.14 L585.13 87.78 L585.68 87.54 L586.23 88.37 L586.78 87.27 L587.33 87.37 L587.88 87.3 L588.43 87.8 L588.98 87.72 L589.53 88.15 L590.09 87.47 L590.64 87.74 L591.19 87.68 L591.74 87.98 L592.29 87.22 L592.84 87.75 L593.39 87.78 L593.94 86.6 L594.49 87.6 L595.04 87.59 L595.59 87.89 L596.15 87.69 L596.7 87.21 L597.25 87.3 L597.8 87.45 L598.35 86.63 L598.9 87.66 L598.9 106.59 L598.34 105.98 L597.79 105.9 L597.23 105.65 L596.67 106.72 L596.12 105.67 L595.56 105.85 L595.01 106.11 L594.45 105.75 L593.89 106.76 L593.34 106.88 L592.78 106.06 L592.23 106.76 L591.67 106.24 L591.11 105.94 L590.56 105.97 L590 106.03 L589.43 106.07 L588.85 106.06 L588.28 106.15 L587.71 107.23 L587.14 106.93 L586.56 106.86 L585.99 107.29 L585.42 106.44 L584.85 106.98 L584.27 106.38 L583.7 106.69 L583.13 106.63 L582.55 107.29 L581.98 107.62 L581.41 106.48 L580.84 106.51 L580.26 106.82 L579.69 106.69 L579.12 106.99 L578.55 106.66 L577.97 107.38 L577.4 107.14 L576.83 106.76 L576.25 106.94 L575.68 108.04 L575.11 106.9 L574.54 106.97 L573.96 107.28 L573.39 107.21 L572.82 107.44 L572.25 107.28 L571.67 107.75 L571.1 107.28 L570.53 107.33 L569.95 107.38 L569.38 107.77 L568.81 107.69 L568.24 107.79 L567.66 108.47 L567.09 108.54 L566.52 108.01 L565.95 107.75 L565.37 108.43 L564.8 108.55 L564.22 107.87 L563.65 108.15 L563.07 108.71 L562.49 108.7 L561.92 108.18 L561.34 108.23 L560.76 108.48 L560.19 108.83 L559.61 108.28 L559.04 108.52 L558.46 108.86 L557.88 108.39 L557.31 109.44 L556.73 108.82 L556.15 107.7 L555.58 108.96 L555 109.32 L554.42 109.88 L553.85 108.97 L553.27 108.47 L552.7 108.72 L552.12 109.78 L551.55 109.92 L550.98 110.26 L550.4 109.14 L549.83 109.52 L549.25 109.51 L548.68 110.56 L548.1 111.08 L547.52 109.74 L546.93 109.79 L546.35 109.77 L545.76 109.8 L545.18 110.39 L544.59 110.26 L544.01 109.74 L543.42 109.35 L542.84 109.36 L542.25 110.55 L541.67 110.12 L541.08 109.12 L540.5 109 L539.94 109.41 L539.39 110.9 L538.83 111.2 L538.28 110.54 L537.72 109.74 L537.17 110.74 L536.61 111.18 L536.06 111.16 L535.5 111.15 L534.93 110.9 L534.37 111.89 L533.8 112.65 L533.23 112.57 L532.67 112.44 L532.1 112.39 L531.53 112.05 L530.97 112.6 L530.4 113.86 L529.9 113.98 L529.4 114.59 L528.9 114.82 L528.4 114.68 L527.9 115.92 L527.4 117.44 L526.9 117.36 L526.4 118.02 L525.9 118.17 L525.4 118.98 L524.77 118.85 L524.13 120.83 L523.5 120.9 L522.87 121.15 L522.23 121.35 L521.6 121.87 L521.04 122.89 L520.49 123.62 L519.93 123.61 L519.38 123.7 L518.82 123.39 L518.27 123.61 L517.71 124.52 L517.16 125.16 L516.6 125.23 L516.03 125.53 L515.45 125.24 L514.88 125.73 L514.31 126.98 L513.74 127.41 L513.16 126.26 L512.59 126.33 L512.02 126.82 L511.45 127.79 L510.87 128.06 L510.3 128.52 L509.74 128.07 L509.18 129.41 L508.62 129.63 L508.06 129.66 L507.5 130.95 L506.5 129.74 L506.31 129.19 L506.12 129.49 L505.93 127.87 L505.74 128.21 L505.55 127.12 L505.36 126.42 L505.17 125.44 L504.98 125.3 L504.79 124.72 L504.6 123.7 L504.47 124.21 L504.35 122.7 L504.22 122.08 L504.09 122.17 L503.97 121.26 L503.84 120.52 L503.71 119.82 L503.59 119.83 L503.46 118.42 L503.33 118.7 L503.21 117.56 L503.08 116.92 L502.95 116.32 L502.83 115.5 L502.7 115.12 L502.56 114.34 L502.43 114.02 L502.29 113.22 L502.16 112.69 L502.02 112.14 L501.89 111.84 L501.75 111.86 L501.61 110.58 L501.48 110.44 L501.34 109.56 L501.21 109.23 L501.07 108.16 L500.94 108.38 L500.8 107.71 L500.25 107.94 L499.69 107.7 L499.14 108.04 L498.59 108.03 L498.03 107.72 L497.48 107.96 L496.93 107.01 L496.37 107.26 L495.82 108.68 L495.27 107.41 L494.71 108.07 L494.16 107.69 L493.61 108.14 L493.05 108.29 L492.5 107.74 L491.95 107.67 L491.39 107.26 L490.84 107.33 L490.29 108.12 L489.73 107.36 L489.18 107.21 L488.63 107.1 L488.07 107.53 L487.52 107.76 L486.97 107.5 L486.41 107.87 L485.86 107.54 L485.31 108.44 L484.75 107.89 L484.2 107.79 L483.65 107.77 L483.09 107.1 L482.54 108.1 L481.99 107.81 L481.43 108.02 L480.88 107.07 L480.33 107.65 L479.77 107.51 L479.22 107.37 L478.67 107.02 L478.11 108.07 L477.56 106.92 L477.01 107.57 L476.45 107.06 L475.9 107.42Z" fill="#d70000" stroke="#d70000" stroke-width="0.4" stroke-linejoin="round"/>
<line x1="388.9" y1="81.1" x2="388.9" y2="96" stroke="#111" stroke-width="1.2"/>
<path d="M388.9 99 L386.4 94 L388.9 94.4 L391.4 94Z" fill="#111" stroke="#111" stroke-width="0.3" stroke-linejoin="round"/>
<line x1="430.1" y1="81.1" x2="430.1" y2="96" stroke="#111" stroke-width="1.2"/>
<path d="M430.1 99 L427.6 94 L430.1 94.4 L432.6 94Z" fill="#111" stroke="#111" stroke-width="0.3" stroke-linejoin="round"/>
<line x1="498.4" y1="131.4" x2="498.4" y2="119.2" stroke="#111" stroke-width="1.2"/>
<path d="M498.4 116.2 L495.8 121.2 L498.4 120.8 L501 121.2Z" fill="#111" stroke="#111" stroke-width="0.3" stroke-linejoin="round"/>
<text x="499.1" y="144.8" font-size="10.5" font-weight="bold" stroke="#111" stroke-width="0.3" text-anchor="middle" font-family="Liberation Sans, Arial, Helvetica, sans-serif" fill="#111" >SNP</text>
<path d="M27.7 255.4 C51.8 255.4 75.9 255.42 100 255.4 C126.67 255.38 153.33 255.44 180 255.3 C184.2 255.28 188.4 255.14 192.6 254.9 C194.28 254.8 195.93 254.41 197.6 254.3 C199.83 254.15 202.18 253.4 204.3 254.1 C205.33 254.44 205.57 255.94 205.8 257 C206.48 260.09 206.65 263.26 207 266.4 C207.28 268.93 207.51 271.46 207.7 274 C208.04 278.53 208.28 283.07 208.6 287.6 C208.78 290.1 208.71 292.64 209.2 295.1 C209.46 296.39 209.98 297.67 210.8 298.7 C211.23 299.24 212.01 299.47 212.7 299.5 C213.59 299.54 214.6 299.44 215.3 298.9 C216.3 298.13 216.95 296.94 217.5 295.8 C218.19 294.38 218.55 292.82 219 291.3 C219.49 289.65 219.9 287.98 220.3 286.3 C220.67 284.74 220.82 283.13 221.3 281.6 C221.66 280.48 222.12 279.36 222.8 278.4 C223.48 277.44 224.39 276.65 225.3 275.9 C226.3 275.08 227.26 274.08 228.5 273.7 C230.1 273.21 231.87 273.78 233.5 273.4 C234.25 273.23 234.86 272.64 235.4 272.1 C236.34 271.16 236.95 269.93 237.9 269 C238.67 268.25 239.55 267.61 240.5 267.1 C241.57 266.53 242.79 266.29 243.9 265.8 C245.76 264.99 247.52 263.95 249.4 263.2 C251.56 262.34 253.86 261.89 256 261 C258.3 260.05 260.45 258.77 262.7 257.7 C264.52 256.84 266.33 255.94 268.2 255.2 C270.03 254.47 271.95 253.97 273.8 253.3 C274.71 252.97 275.74 252.81 276.5 252.2 C277.43 251.46 277.74 250.09 278.7 249.4 C279.16 249.07 279.85 249.25 280.4 249.4 C281.19 249.62 281.78 250.5 282.6 250.5 C283.76 250.5 284.74 249.44 285.9 249.4 C286.72 249.37 287.38 250.23 288.2 250.3 C289.37 250.4 290.53 250.03 291.7 249.9" fill="none" stroke="#4672e6" stroke-width="1.05" stroke-linejoin="round" stroke-linecap="round"/>
<line x1="200.7" y1="303.3" x2="200.7" y2="291.2" stroke="#111" stroke-width="1.2"/>
<path d="M200.7 288.2 L198.1 293.2 L200.7 292.8 L203.3 293.2Z" fill="#111" stroke="#111" stroke-width="0.3" stroke-linejoin="round"/>
<text x="201.7" y="315.5" font-size="10.5" font-weight="bold" stroke="#111" stroke-width="0.3" text-anchor="middle" font-family="Liberation Sans, Arial, Helvetica, sans-serif" fill="#111" >PE</text>
<path d="M343.6 256.2 C395.53 256.2 447.47 256.27 499.4 256.2 C499.71 256.2 500.22 256.3 500.3 256 C500.8 254.05 500.86 252.01 501 250 C501.36 244.67 501.36 239.32 501.8 234 C502.06 230.78 502.55 227.58 503.1 224.4 C503.45 222.34 503.25 219.97 504.5 218.3 C505.03 217.6 505.79 219.58 506.1 220.4 C506.78 222.19 506.98 224.13 507.4 226 C507.94 228.4 508.49 230.8 509 233.2 C509.45 235.33 509.84 237.47 510.3 239.6 C510.64 241.21 510.82 242.86 511.4 244.4 C511.74 245.3 512.18 246.29 513 246.8 C514.17 247.53 515.64 247.63 517 247.9 C519.12 248.33 521.26 248.65 523.4 248.9 C524.99 249.08 526.64 249.55 528.2 249.2 C529.2 248.98 529.72 247.81 530.6 247.3 C531.34 246.87 532.15 246.48 533 246.4 C535.12 246.21 537.28 246.3 539.4 246.5 C540.76 246.63 542.12 246.93 543.4 247.4 C544.31 247.74 544.94 248.73 545.9 248.9 C546.74 249.05 547.55 248.21 548.4 248.3 C549.73 248.45 550.93 249.18 552.2 249.6 C553.46 250.02 554.67 250.85 556 250.8 C557.36 250.75 558.44 249.42 559.8 249.3 C560.87 249.21 561.84 250.02 562.9 250.2 C564.35 250.45 565.85 250.35 567.3 250.6 C568.39 250.79 569.39 251.47 570.5 251.5 C571.98 251.54 573.42 250.88 574.9 250.8 C577.83 250.64 580.77 250.69 583.7 250.8 C587.07 250.92 590.43 251.27 593.8 251.5" fill="none" stroke="#4672e6" stroke-width="1.05" stroke-linejoin="round" stroke-linecap="round"/>
<line x1="497.5" y1="308.6" x2="497.5" y2="295.8" stroke="#111" stroke-width="1.2"/>
<path d="M497.5 292.8 L494.9 297.8 L497.5 297.4 L500.1 297.8Z" fill="#111" stroke="#111" stroke-width="0.3" stroke-linejoin="round"/>
<text x="498.7" y="322.3" font-size="10.6" font-weight="bold" stroke="#111" stroke-width="0.3" text-anchor="middle" font-family="Liberation Sans, Arial, Helvetica, sans-serif" fill="#111" >SNP</text>
</svg>
</body></html>
